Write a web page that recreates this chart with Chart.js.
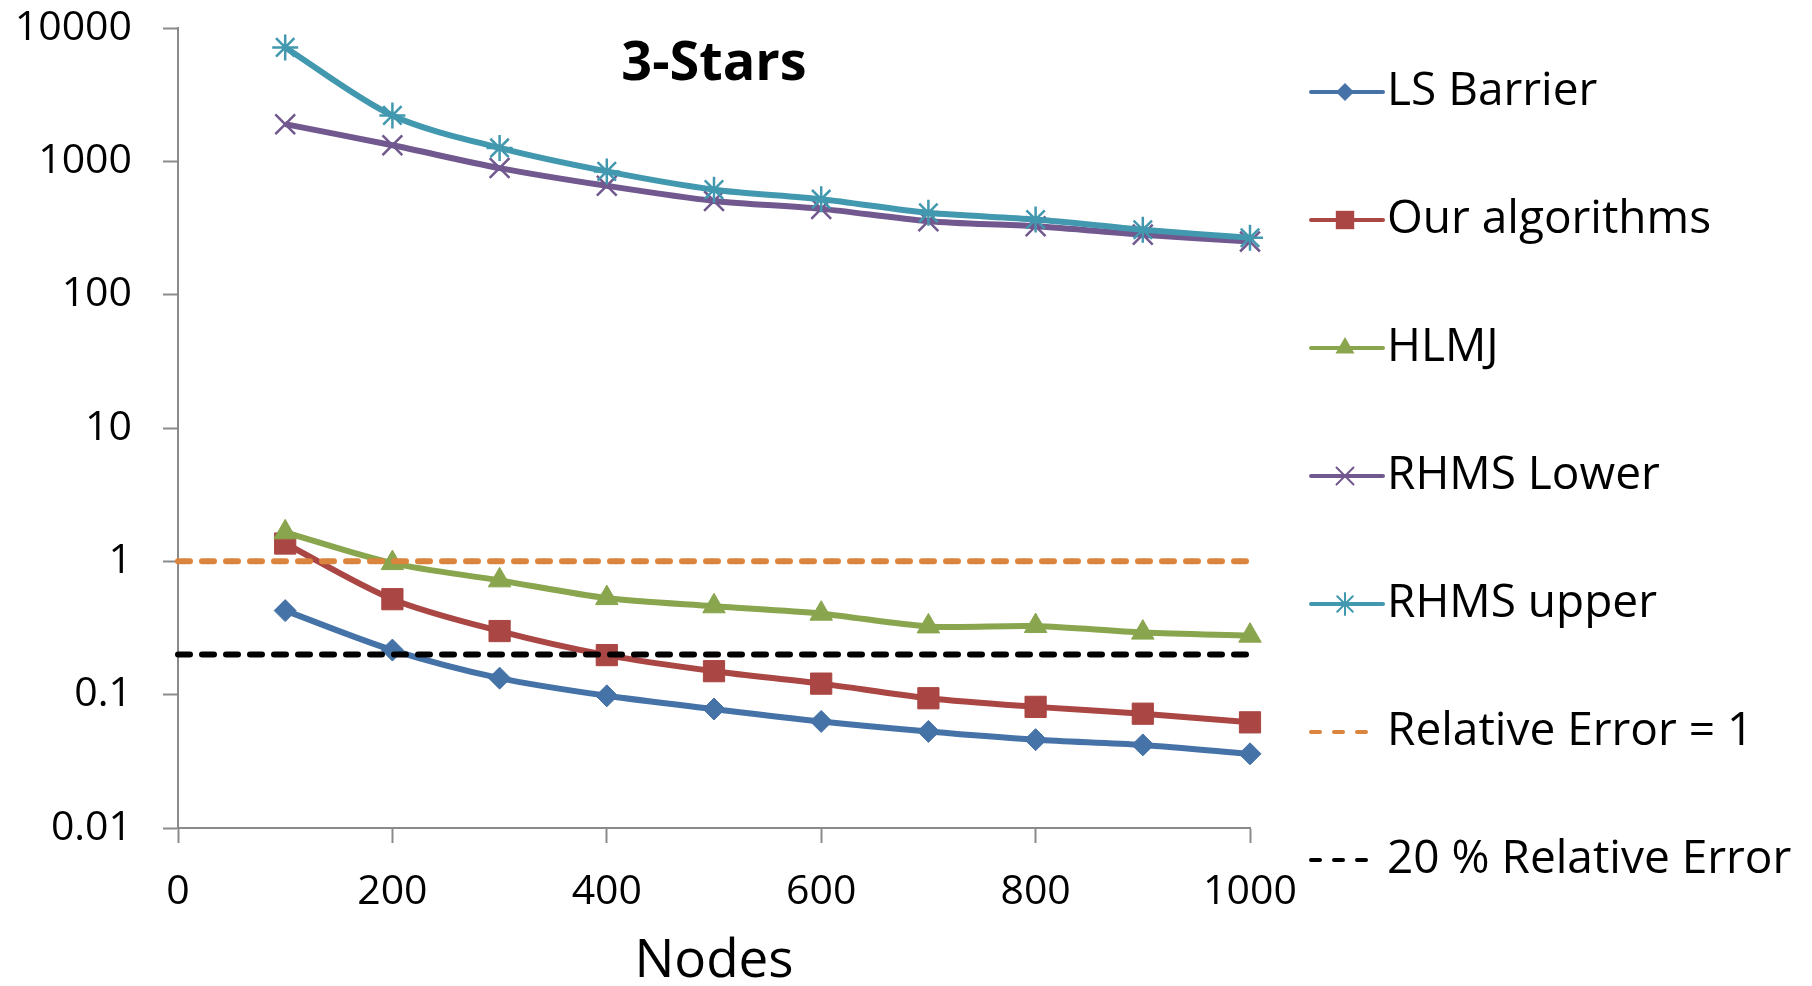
<!DOCTYPE html>
<html>
<head>
<meta charset="utf-8">
<script src="https://cdn.jsdelivr.net/npm/chart.js@4.4.1/dist/chart.umd.min.js"></script>
<style>
  html, body { margin: 0; padding: 0; background: #fff; }
  #wrap { width: 1812px; height: 986px; position: relative; }
</style>
</head>
<body>
<div id="wrap"><canvas id="chart"></canvas></div>
<script>
// data
const chartTitle = "3-Stars";
const xTitle = "Nodes";
const nodes = [100, 200, 300, 400, 500, 600, 700, 800, 900, 1000];
const lsBarrier = [0.427, 0.216, 0.133, 0.098, 0.078, 0.063, 0.053, 0.046, 0.042, 0.036];
const ourAlgorithms = [1.36, 0.52, 0.30, 0.198, 0.150, 0.121, 0.094, 0.081, 0.072, 0.062];
const hlmj = [1.65, 0.97, 0.72, 0.53, 0.46, 0.405, 0.325, 0.327, 0.292, 0.277];
const rhmsLower = [1900, 1320, 890, 655, 505, 440, 356, 326, 282, 250];
const rhmsUpper = [7150, 2210, 1260, 840, 613, 520, 411, 366, 307, 267];
const refX = [0, 1000];
const relErrOne = [1, 1];
const relErrTwenty = [0.2, 0.2];
const xTicks = [0, 200, 400, 600, 800, 1000];
const yTicks = [0.01, 0.1, 1, 10, 100, 1000, 10000];

const FONT = "Open Sans";
const axisGray = "#8a8a8a";

// marker shapes, used for the legend icons
function marker(g, style, x, y, r) {
  g.beginPath();
  if (style === "rectRot") {
    g.moveTo(x, y - r); g.lineTo(x + r, y); g.lineTo(x, y + r); g.lineTo(x - r, y); g.closePath(); g.fill();
  } else if (style === "rect") {
    const s = r * Math.SQRT1_2;
    g.fillRect(x - s, y - s, 2 * s, 2 * s);
  } else if (style === "triangle") {
    g.moveTo(x, y - r);
    g.lineTo(x + r * 0.866, y + r / 2);
    g.lineTo(x - r * 0.866, y + r / 2);
    g.closePath(); g.fill();
  } else if (style === "crossRot" || style === "star") {
    const d = r * Math.SQRT1_2;
    g.lineWidth = 2;
    g.moveTo(x - d, y - d); g.lineTo(x + d, y + d);
    g.moveTo(x + d, y - d); g.lineTo(x - d, y + d);
    if (style === "star") { g.moveTo(x, y - r); g.lineTo(x, y + r); }
    g.stroke();
  }
}

function legendIcon(color, style, r, dashed) {
  const c = document.createElement("canvas");
  c.width = 78; c.height = 30;
  const g = c.getContext("2d");
  g.strokeStyle = color; g.fillStyle = color;
  g.lineWidth = 4; g.lineCap = "round";
  g.beginPath();
  if (dashed) g.setLineDash([9, 14]);
  g.moveTo(2, 15); g.lineTo(dashed ? 68 : 74, 15);
  g.stroke();
  g.setLineDash([]);
  if (style) marker(g, style, 36, 15, r);
  return c;
}

function series(label, values, color, style, radius, bw, order) {
  return {
    label: label,
    data: nodes.map((n, i) => ({ x: n, y: values[i] })),
    borderColor: color,
    backgroundColor: color,
    borderWidth: 6,
    pointStyle: style,
    pointRadius: radius,
    pointBackgroundColor: color,
    pointBorderColor: color,
    pointBorderWidth: bw,
    tension: 0.3,
    clip: false,
    order: order
  };
}

function refLine(label, values, color, order) {
  return {
    label: label,
    data: refX.map((n, i) => ({ x: n, y: values[i] })),
    borderColor: color,
    borderWidth: 6,
    borderDash: [12, 12],
    borderCapStyle: "round",
    pointRadius: 0,
    clip: false,
    order: order
  };
}

const datasets = [
  series("LS Barrier", lsBarrier, "#4572A7", "rectRot", 11, 1, 7),
  series("Our algorithms", ourAlgorithms, "#AA4643", "rect", 15, 1, 6),
  series("HLMJ", hlmj, "#89A54E", "triangle", 13, 1, 5),
  series("RHMS Lower", rhmsLower, "#71588F", "crossRot", 14, 2.5, 4),
  series("RHMS upper", rhmsUpper, "#4198AF", "star", 13, 2.5, 3),
  refLine("Relative Error = 1", relErrOne, "#DB843D", 2),
  refLine("20 % Relative Error", relErrTwenty, "#000000", 1)
];

const icons = [
  legendIcon("#4572A7", "rectRot", 9),
  legendIcon("#AA4643", "rect", 13),
  legendIcon("#89A54E", "triangle", 11),
  legendIcon("#71588F", "crossRot", 12),
  legendIcon("#4198AF", "star", 11),
  legendIcon("#DB843D", null, 0, true),
  legendIcon("#000000", null, 0, true)
];

// title sits inside the plot area
const titlePlugin = {
  id: "innerTitle",
  afterDraw(chart) {
    const { ctx, chartArea } = chart;
    ctx.save();
    ctx.font = "bold 54px '" + FONT + "'";
    ctx.fillStyle = "#000";
    ctx.textAlign = "center";
    ctx.textBaseline = "alphabetic";
    ctx.fillText(chartTitle, (chartArea.left + chartArea.right) / 2, 80);
    ctx.restore();
  }
};

// let the legend box run to the right edge so long labels are not clipped
const legendWidthPlugin = {
  id: "legendWidth",
  afterLayout(chart) {
    const lg = chart.legend;
    if (lg) { lg.right = chart.width; lg.width = chart.width - lg.left; }
  }
};

const tickFont = { family: FONT, size: 41 };

new Chart(document.getElementById("chart"), {
  type: "line",
  data: { datasets: datasets },
  plugins: [legendWidthPlugin, titlePlugin],
  options: {
    responsive: true,
    maintainAspectRatio: false,
    animation: false,
    events: [],
    layout: { padding: { top: -13, left: 0, right: 0, bottom: 0 } },
    plugins: {
      title: { display: false },
      tooltip: { enabled: false },
      legend: {
        position: "right",
        align: "start",
        labels: {
          usePointStyle: true,
          pointStyleWidth: 32,
          padding: 82,
          color: "#000",
          font: { family: FONT, size: 46 },
          generateLabels: function (chart) {
            return chart.data.datasets.map((ds, i) => ({
              text: ds.label,
              fillStyle: ds.borderColor,
              strokeStyle: ds.borderColor,
              lineWidth: 0,
              pointStyle: icons[i],
              rotation: 0,
              hidden: false,
              datasetIndex: i
            }));
          }
        }
      }
    },
    scales: {
      x: {
        type: "linear",
        min: 0,
        max: 1000,
        afterBuildTicks: (s) => { s.ticks = xTicks.map((v) => ({ value: v })); },
        afterFit: (s) => { s.height = 158; s.paddingLeft = 0; s.paddingRight = 562; },
        ticks: {
          font: tickFont,
          color: "#000",
          padding: 25,
          maxRotation: 0,
          autoSkip: false,
          callback: (v) => String(v)
        },
        grid: { drawOnChartArea: false, drawTicks: true, tickLength: 15, tickWidth: 2, tickColor: axisGray },
        border: { display: true, color: axisGray, width: 2 },
        title: {
          display: true,
          text: xTitle,
          color: "#000",
          font: { family: FONT, size: 53, lineHeight: 1 },
          padding: { top: 0, bottom: -2 }
        }
      },
      y: {
        type: "logarithmic",
        min: 0.01,
        max: 10000,
        afterBuildTicks: (s) => { s.ticks = yTicks.map((v) => ({ value: v, major: true })); },
        afterFit: (s) => { s.width = 178; s.paddingTop = 28; s.paddingBottom = 0; },
        ticks: {
          font: tickFont,
          color: "#000",
          padding: 31,
          autoSkip: false,
          callback: (v) => String(v)
        },
        grid: { drawOnChartArea: false, drawTicks: true, tickLength: 15, tickWidth: 2, tickColor: axisGray },
        border: { display: true, color: axisGray, width: 2 }
      }
    }
  }
});
</script>
</body>
</html>
